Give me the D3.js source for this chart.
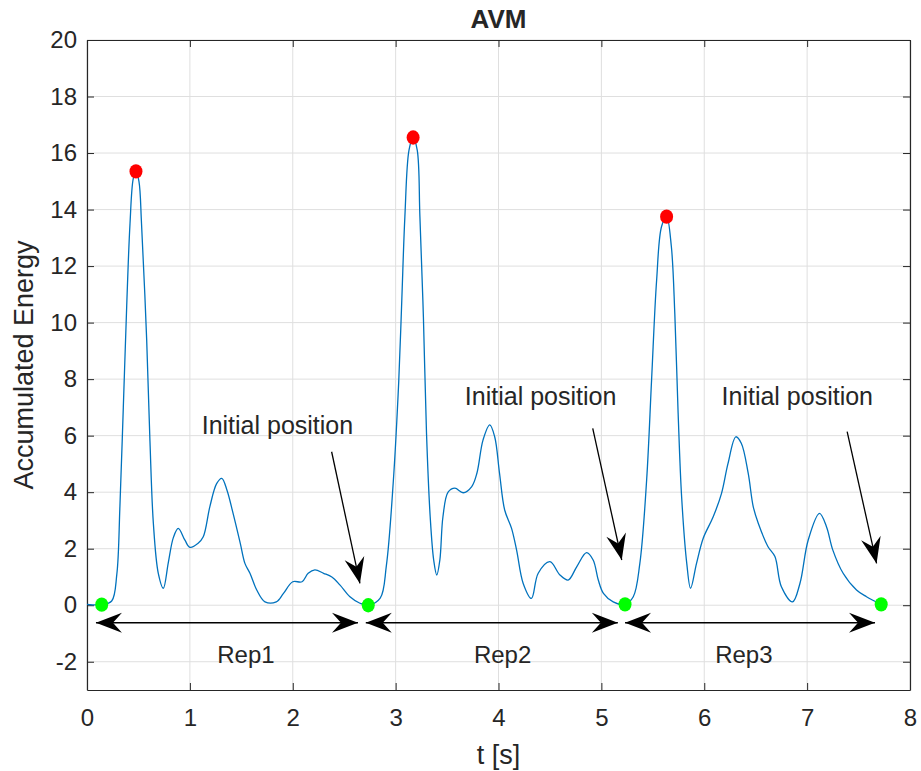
<!DOCTYPE html>
<meta charset="utf-8">
<div id="avm"></div>
<script src="https://d3js.org/d3.v7.min.js"></script>
<style type="text/css">
body { margin: 0; background: #fff; }
text { font-family: "Liberation Sans", Arial, sans-serif; fill: #262626; }
.curve { fill: none; stroke: #0072BD; stroke-width: 1.3; }
.grid line { stroke: #dfdfdf; stroke-width: 1; }
.axis path, .axis line { stroke: #262626; }
.axis text { font-size: 24px; }
.arr { stroke: #000; stroke-width: 1.3; fill: none; }
</style>
<script>

// sampled signal (t in s, accumulated energy)
var times = [0, 0.143, 0.24, 0.29, 0.32, 0.353, 0.386, 0.418, 0.45, 0.476, 0.505, 0.53, 0.58, 0.612, 0.645, 0.693, 0.742, 0.79, 0.84, 0.887, 0.952,
  1.0, 1.08, 1.13, 1.195, 1.26, 1.31, 1.36, 1.42, 1.49, 1.535, 1.584, 1.65, 1.73, 1.84, 1.91, 2.0, 2.09, 2.15, 2.215, 2.3, 2.38, 2.46, 2.556,
  2.653, 2.734, 2.85, 2.91, 2.976, 3.03, 3.06, 3.09, 3.13, 3.17, 3.21, 3.236, 3.27, 3.30, 3.336, 3.37, 3.40, 3.43, 3.46, 3.51, 3.576, 3.657,
  3.74, 3.79, 3.85, 3.915, 3.963, 4.01, 4.06, 4.127, 4.176, 4.24, 4.32, 4.386, 4.5, 4.597, 4.677, 4.76, 4.856, 4.92, 4.97, 5.02, 5.115, 5.23,
  5.31, 5.374, 5.44, 5.488, 5.537, 5.585, 5.634, 5.68, 5.714, 5.746, 5.78, 5.83, 5.867, 5.925, 5.99, 6.087, 6.168, 6.23, 6.307, 6.36, 6.427,
  6.476, 6.525, 6.62, 6.687, 6.75, 6.858, 6.93, 7.01, 7.12, 7.188, 7.25, 7.35, 7.48, 7.577, 7.72];
var energy = [0.03, 0.02, 0.15, 1.1, 3.5, 7.0, 10.6, 13.5, 15.1, 15.35, 15.0, 13.5, 9.4, 5.8, 2.9, 1.13, 0.6, 1.5, 2.4, 2.72, 2.3,
  2.05, 2.19, 2.42, 3.5, 4.3, 4.49, 4.08, 3.25, 2.19, 1.48, 1.13, 0.54, 0.12, 0.12, 0.42, 0.83, 0.83, 1.13, 1.25, 1.13, 1.0, 0.71, 0.3,
  0.07, 0.0, 0.25, 1.4, 4.3, 7.9, 10.8, 13.75, 16.1, 16.55, 16.1, 13.75, 10.2, 6.1, 3.13, 1.6, 1.07, 1.6, 3.13, 4.0, 4.14, 3.98,
  4.2, 4.67, 5.85, 6.38, 5.96, 4.67, 3.37, 2.72, 1.95, 0.77, 0.24, 1.13, 1.54, 1.07, 0.89, 1.36, 1.86, 1.6, 0.89, 0.42, 0.12, 0.03,
  0.3, 1.48, 4.43, 7.97, 11.5, 13.4, 13.75, 12.7, 10.3, 6.8, 3.84, 1.48, 0.6, 1.48, 2.37, 3.13, 3.96, 5.0, 5.96, 5.73, 4.67,
  3.49, 2.9, 2.07, 1.72, 0.65, 0.12, 0.77, 2.3, 3.25, 2.78, 1.95, 1.13, 0.54, 0.3, 0.03];

var peakT = [0.476, 3.17, 5.634];
var peakE = [15.35, 16.55, 13.75];
var startT = [0.143, 2.734, 5.23, 7.72];
var startE = [0.02, 0.0, 0.03, 0.03];

// rep spans (double arrows) and labels
var repNames = ["Rep1", "Rep2", "Rep3"];
var repFrom = [0.087, 2.71, 5.23];
var repTo = [2.634, 5.16, 7.66];
var repArrowY = -0.62;
var repLabelT = [1.545, 4.04, 6.385];
var repLabelY = -1.75;

// "Initial position" notes
var noteT = [1.115, 3.673, 6.168];
var noteY = [6.38, 7.4, 7.4];
var noteArrowFrom = [[2.378, 5.43], [4.916, 6.26], [7.389, 6.14]];
var noteArrowTo = [[2.653, 0.77], [5.198, 1.6], [7.675, 1.48]];

var xTicks = [0, 1, 2, 3, 4, 5, 6, 7, 8];
var yTicks = [-2, 0, 2, 4, 6, 8, 10, 12, 14, 16, 18, 20];

var W = 921, H = 771;
var pLeft = 87, pRight = 910, pTop = 40, pBottom = 690;

var svg = d3.select("#avm").append("svg").attr("width", W).attr("height", H);

var x = d3.scaleLinear().domain([0, 8]).range([pLeft, pRight]);
var y = d3.scaleLinear().domain([-3, 20]).range([pBottom, pTop]);

var defs = svg.append("defs");
defs.append("marker")
    .attr("id", "head")
    .attr("markerUnits", "userSpaceOnUse")
    .attr("viewBox", "-27 -11 28 22")
    .attr("refX", 0).attr("refY", 0)
    .attr("markerWidth", 28).attr("markerHeight", 22)
    .attr("orient", "auto-start-reverse")
  .append("path")
    .attr("d", "M0,0 L-26,-10 L-17,0 L-26,10 Z")
    .attr("fill", "#000");

// grid
var grid = svg.append("g").attr("class", "grid");
grid.selectAll(".gx").data(xTicks).enter().append("line")
    .attr("x1", function(d){ return x(d); }).attr("x2", function(d){ return x(d); })
    .attr("y1", pTop).attr("y2", pBottom);
grid.selectAll(".gy").data(yTicks).enter().append("line")
    .attr("x1", pLeft).attr("x2", pRight)
    .attr("y1", function(d){ return y(d); }).attr("y2", function(d){ return y(d); });

// axes (box with inward ticks)
var plain = function(d){ return String(d); };
svg.append("g").attr("class", "axis")
    .attr("transform", "translate(0," + pBottom + ")")
    .call(d3.axisBottom(x).tickValues(xTicks).tickFormat(plain).tickSizeInner(-7).tickSizeOuter(0).tickPadding(19));
svg.append("g").attr("class", "axis")
    .attr("transform", "translate(" + pLeft + ",0)")
    .call(d3.axisLeft(y).tickValues(yTicks).tickFormat(plain).tickSizeInner(-7).tickSizeOuter(0).tickPadding(10));
svg.append("g").attr("class", "axis")
    .attr("transform", "translate(0," + pTop + ")")
    .call(d3.axisTop(x).tickValues(xTicks).tickSizeInner(-7).tickSizeOuter(0).tickFormat(""));
svg.append("g").attr("class", "axis")
    .attr("transform", "translate(" + pRight + ",0)")
    .call(d3.axisRight(y).tickValues(yTicks).tickSizeInner(-7).tickSizeOuter(0).tickFormat(""));
svg.selectAll(".axis .domain").attr("stroke-width", 1.2);

// signal
var pts = times.map(function(t, i){ return [t, energy[i]]; });
var line = d3.line()
    .x(function(d){ return x(d[0]); })
    .y(function(d){ return y(d[1]); })
    .curve(d3.curveCatmullRom.alpha(0.5));
svg.append("path").datum(pts).attr("class", "curve").attr("d", line);

svg.selectAll(".peak").data(peakT).enter().append("ellipse")
    .attr("cx", function(d){ return x(d); })
    .attr("cy", function(d, i){ return y(peakE[i]); })
    .attr("rx", 6.5).attr("ry", 7.2)
    .attr("fill", "#ff0000");
svg.selectAll(".start").data(startT).enter().append("ellipse")
    .attr("cx", function(d){ return x(d); })
    .attr("cy", function(d, i){ return y(startE[i]); })
    .attr("rx", 6.5).attr("ry", 7.2)
    .attr("fill", "#00ff00");

// rep arrows
svg.selectAll(".rep").data(repNames).enter().append("line")
    .attr("class", "arr")
    .attr("x1", function(d, i){ return x(repFrom[i]); })
    .attr("x2", function(d, i){ return x(repTo[i]); })
    .attr("y1", y(repArrowY)).attr("y2", y(repArrowY))
    .attr("marker-start", "url(#head)")
    .attr("marker-end", "url(#head)");
svg.selectAll(".replab").data(repNames).enter().append("text")
    .attr("x", function(d, i){ return x(repLabelT[i]); })
    .attr("y", y(repLabelY))
    .attr("dy", "0.35em")
    .attr("text-anchor", "middle")
    .style("font-size", "24px")
    .text(function(d){ return d; });

// initial position notes
svg.selectAll(".note").data(noteT).enter().append("text")
    .attr("x", function(d){ return x(d); })
    .attr("y", function(d, i){ return y(noteY[i]); })
    .attr("dy", "0.35em")
    .style("font-size", "25px")
    .text("Initial position");
svg.selectAll(".notearr").data(noteArrowFrom).enter().append("line")
    .attr("class", "arr")
    .attr("x1", function(d){ return x(d[0]); })
    .attr("y1", function(d){ return y(d[1]); })
    .attr("x2", function(d, i){ return x(noteArrowTo[i][0]); })
    .attr("y2", function(d, i){ return y(noteArrowTo[i][1]); })
    .attr("marker-end", "url(#head)");

// labels
svg.append("text")
    .attr("x", (pLeft + pRight) / 2).attr("y", 28)
    .attr("text-anchor", "middle")
    .style("font-size", "26px").style("font-weight", "bold")
    .text("AVM");
svg.append("text")
    .attr("x", (pLeft + pRight) / 2).attr("y", 764)
    .attr("text-anchor", "middle")
    .style("font-size", "27px")
    .text("t [s]");
svg.append("text")
    .attr("transform", "translate(33," + (pTop + pBottom) / 2 + ") rotate(-90)")
    .attr("text-anchor", "middle")
    .style("font-size", "27px")
    .text("Accumulated Energy");
</script>
